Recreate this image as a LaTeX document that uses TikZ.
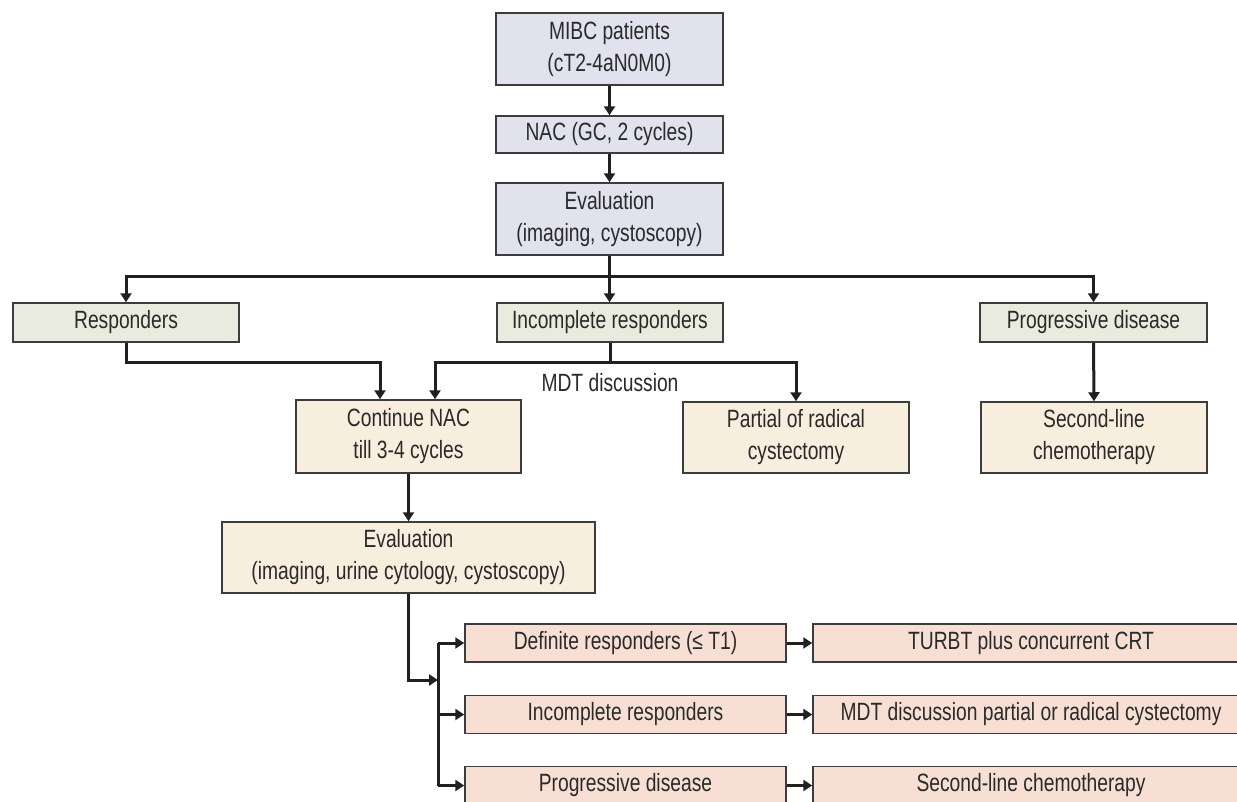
\documentclass[tikz,border=0pt]{standalone}
\usepackage{fontspec}
\setmainfont[FakeStretch=0.77]{Liberation Sans}
\usetikzlibrary{arrows.meta}
\definecolor{cblue}{HTML}{E1E2EE}
\definecolor{cgreen}{HTML}{E8EBDD}
\definecolor{ccream}{HTML}{F8EEDE}
\definecolor{cpink}{HTML}{F7DFD3}
\definecolor{ctext}{HTML}{2A2A2A}
\definecolor{cline}{HTML}{231F20}
\definecolor{cborder}{HTML}{3C3C3C}
\begin{document}
\begin{tikzpicture}[x=1pt,y=-1pt,
  box/.style={draw=cborder,line width=1.5pt,inner sep=0pt,align=center,text=ctext,
    font=\fontsize{25}{32}\selectfont},
  bluebox/.style={box,fill=cblue},
  greenbox/.style={box,fill=cgreen},
  creambox/.style={box,fill=ccream},
  pinkbox/.style={box,fill=cpink},
  arr/.style={draw=cline,line width=3pt,-{Triangle[width=11pt,length=9pt]}},
  ln/.style={draw=cline,line width=3pt},
  lbl/.style={text=ctext,font=\fontsize{25}{32}\selectfont,inner sep=0pt}]
\useasboundingbox (0,0) rectangle (1237,801);
% top
\node[bluebox,minimum width=227pt,minimum height=72pt] (mibc) at (609.5,49) {MIBC patients\\(cT2-4aN0M0)};
\node[bluebox,minimum width=227pt,minimum height=37pt] (nac) at (609.5,134.5) {NAC (GC, 2 cycles)};
\node[bluebox,minimum width=227pt,minimum height=72pt] (ev1) at (609.5,219) {Evaluation\\(imaging, cystoscopy)};
% second row
\node[greenbox,minimum width=226pt,minimum height=39pt] (resp) at (126,322.5) {Responders};
\node[greenbox,minimum width=226pt,minimum height=39pt] (inc) at (610,322.5) {Incomplete responders};
\node[greenbox,minimum width=227pt,minimum height=39pt] (prog) at (1093.5,322.5) {Progressive disease};
% third row
\node[creambox,minimum width=225pt,minimum height=73pt] (cont) at (408.5,436.5) {Continue NAC\\till 3-4 cycles};
\node[creambox,minimum width=226pt,minimum height=71pt] (part) at (796,437.5) {Partial of radical\\cystectomy};
\node[creambox,minimum width=226pt,minimum height=71pt] (sec) at (1094,437.5) {Second-line\\chemotherapy};
\node[creambox,minimum width=373pt,minimum height=71pt] (ev2) at (408.5,557.5) {Evaluation\\(imaging, urine cytology, cystoscopy)};
% bottom
\node[pinkbox,minimum width=321pt,minimum height=38pt] (d1) at (625.5,643) {Definite responders (≤ T1)};
\node[pinkbox,minimum width=321pt,minimum height=38pt] (d2) at (625.5,714.5) {Incomplete responders};
\node[pinkbox,minimum width=321pt,minimum height=38pt] (d3) at (625.5,785.5) {Progressive disease};
\node[pinkbox,minimum width=436pt,minimum height=38pt] (t1) at (1031,643) {TURBT plus concurrent CRT};
\node[pinkbox,minimum width=436pt,minimum height=38pt] (t2) at (1031,714.5) {MDT discussion partial or radical cystectomy};
\node[pinkbox,minimum width=436pt,minimum height=38pt] (t3) at (1031,785.5) {Second-line chemotherapy};
% connectors top
\draw[arr] (mibc.south) -- (nac.north);
\draw[arr] (nac.south) -- (ev1.north);
\coordinate (br) at (609.5,276);
\draw[arr] (ev1.south) -- (ev1.south |- inc.north);
\draw[arr] (br) -| (resp.north);
\draw[arr] (br) -| (prog.north);
% responders to continue
\coordinate (rj) at (380,362);
\draw[arr] (resp.south) |- (rj) -- (rj |- cont.north);
% incomplete, MDT
\coordinate (mj) at (610,362);
\coordinate (cl) at (435,362);
\draw[ln] (inc.south) -- (mj);
\draw[arr] (mj) -- (cl) -- (cl |- cont.north);
\draw[arr] (mj) -| (part.north);
\node[lbl] (mdt) at (610,383) {MDT discussion};
\draw[arr] (prog.south) -- (sec.north);
\draw[arr] (cont.south) -- (ev2.north);
% bottom bracket
\coordinate (bt) at (438,643);
\coordinate (bb) at (438,785.5);
\coordinate (bm) at (438,680);
\draw[ln] (bt) -- (bb);
\draw[arr] (ev2.south) |- (bm);
\draw[arr] (bt) -- (d1.west);
\draw[arr] (bt |- d2.west) -- (d2.west);
\draw[arr] (bb) -- (d3.west);
\draw[arr] (d1.east) -- (t1.west);
\draw[arr] (d2.east) -- (t2.west);
\draw[arr] (d3.east) -- (t3.west);
\end{tikzpicture}
\end{document}
